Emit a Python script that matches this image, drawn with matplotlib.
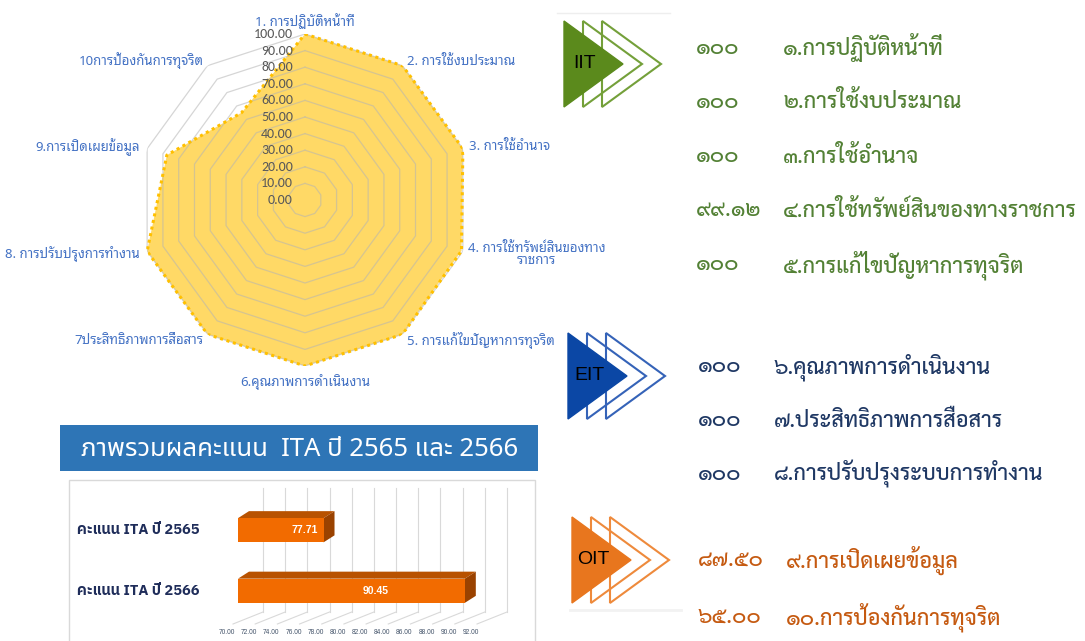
import numpy as np
import matplotlib
matplotlib.use("Agg")
import matplotlib.pyplot as plt
from matplotlib import font_manager as fm
from matplotlib.patches import Polygon, Rectangle
from matplotlib.transforms import ScaledTranslation, blended_transform_factory

# ---------------------------------------------------------------------------
# data
# ---------------------------------------------------------------------------
radar_labels = [
    "1. การปฏิบัติหน้าที่", "2. การใช้งบประมาณ", "3. การใช้อำนาจ",
    "4. การใช้ทรัพย์สินของทาง\nราชการ", "5. การแก้ไขปัญหาการทุจริต",
    "6.คุณภาพการดำเนินงาน", "7ประสิทธิภาพการสื่อสาร", "8. การปรับปรุงการทำงาน",
    "9.การเปิดเผยข้อมูล", "10การป้องกันการทุจริต",
]
scores = [100, 100, 100, 99.12, 100, 100, 100, 100, 87.50, 65.00]
radar_ticks = [0, 10, 20, 30, 40, 50, 60, 70, 80, 90, 100]

iit_values = ["๑๐๐", "๑๐๐", "๑๐๐", "๙๙.๑๒", "๑๐๐"]
iit_labels = ["๑.การปฏิบัติหน้าที่", "๒.การใช้งบประมาณ", "๓.การใช้อำนาจ",
              "๔.การใช้ทรัพย์สินของทางราชการ", "๕.การแก้ไขปัญหาการทุจริต"]
eit_values = ["๑๐๐", "๑๐๐", "๑๐๐"]
eit_labels = ["๖.คุณภาพการดำเนินงาน", "๗.ประสิทธิภาพการสื่อสาร",
              "๘.การปรับปรุงระบบการทำงาน"]
oit_values = ["๘๗.๕๐", "๖๕.๐๐"]
oit_labels = ["๙.การเปิดเผยข้อมูล", "๑๐.การป้องกันการทุจริต"]

ita_title = "ภาพรวมผลคะแนน  ITA ปี 2565 และ 2566"
ita_labels = ["คะแนน ITA ปี 2566", "คะแนน ITA ปี 2565"]
ita_scores = [90.45, 77.71]
ita_ticks = np.arange(70, 93, 2)

# ---------------------------------------------------------------------------
# fonts
# ---------------------------------------------------------------------------
names = {f.name for f in fm.fontManager.ttflist}
def pick(*cands, default="DejaVu Sans"):
    return next((c for c in cands if c in names), default)

TH_UI   = pick("Noto Sans Thai Looped", "Noto Sans Thai", "IBM Plex Sans Thai Looped", "Sarabun")
TH_BODY = pick("Sarabun", "Noto Sans Thai", "IBM Plex Sans Thai")
TH_HEAD = pick("Noto Sans Thai", "IBM Plex Sans Thai", "Sarabun")
TH_BOLD = pick("IBM Plex Sans Thai", "Noto Sans Thai", "Sarabun")
NUM     = pick("Carlito", "Liberation Sans")
F_UI   = [TH_UI, "Noto Sans", "DejaVu Sans"]
F_BODY = [TH_BODY, "Noto Sans", "DejaVu Sans"]
F_HEAD = [TH_HEAD, "Noto Sans", "DejaVu Sans"]
F_BOLD = [TH_BOLD, "Noto Sans", "DejaVu Sans"]

W, H, DPI = 1085, 641, 100
fig = plt.figure(figsize=(W / DPI, H / DPI), dpi=DPI)
fig.patch.set_facecolor("white")

# overlay in pixel coordinates
ov = fig.add_axes([0, 0, 1, 1])
ov.set_xlim(0, W)
ov.set_ylim(H, 0)
ov.axis("off")

def px(dx):
    return dx / DPI

# ---------------------------------------------------------------------------
# radar
# ---------------------------------------------------------------------------
cx, cy, R = 305, 200, 166
ax = fig.add_axes([(cx - R) / W, (H - cy - R) / H, 2 * R / W, 2 * R / H], projection="polar")
ax.set_theta_offset(np.pi / 2)
ax.set_theta_direction(-1)
ax.set_ylim(0, 100)
ax.grid(False)
ax.spines["polar"].set_visible(False)
ax.set_xticks([])
ax.set_yticks([])
ax.patch.set_alpha(0)

n = len(scores)
ang = np.linspace(0, 2 * np.pi, n, endpoint=False)
ang_c = np.append(ang, ang[0])
vals_c = np.append(scores, scores[0])

ax.fill(ang_c, vals_c, color="#FFD966", zorder=1, lw=0)
for r in radar_ticks[1:]:
    ax.plot(ang_c, [r] * (n + 1), color="#B4B4B4", lw=0.9, alpha=0.55, zorder=2)
ax.plot(ang_c, vals_c, color="#FFC000", lw=2.2, ls=(0, (1, 1.2)), zorder=3)

for r in radar_ticks:
    ax.text(0, r, f"{r:.2f}", ha="right", va="center", fontsize=10, family=[NUM],
            color="#595959", zorder=5,
            transform=ax.transData + ScaledTranslation(px(-12), 0, fig.dpi_scale_trans))

lab_off = [(0, 13, "center"), (4, 4, "left"), (6, 2, "left"), (5, -3, "left"),
           (4, -6, "left"), (0, -16, "center"), (-4, -6, "right"), (-7, -3, "right"),
           (-7, 2, "right"), (-4, 5, "right")]
for a, lab, (dx, dy, ha) in zip(ang, radar_labels, lab_off):
    ax.text(a, 100, lab, ha=ha, va="center", ma="center", fontsize=9.5, family=F_UI,
            color="#4472C4", linespacing=0.95,
            transform=ax.transData + ScaledTranslation(px(dx), px(dy), fig.dpi_scale_trans))

# ---------------------------------------------------------------------------
# IIT / EIT / OIT blocks
# ---------------------------------------------------------------------------
def icon(x0, ytop, fill, edge, name, h=86, w=59, step=19):
    for k in (2, 1):
        xs = x0 + k * step
        ov.add_patch(Polygon([(xs, ytop), (xs, ytop + h), (xs + w, ytop + h / 2)],
                             closed=True, fc="none", ec=edge, lw=1.5, zorder=3))
    ov.add_patch(Polygon([(x0, ytop), (x0, ytop + h), (x0 + w, ytop + h / 2)],
                         closed=True, fc=fill, ec=fill, lw=1, zorder=4))
    ov.text(x0 + 21, ytop + h / 2, name, ha="center", va="center", fontsize=14,
            family=["Liberation Sans"], color="black", zorder=5)

ov.plot([557, 670], [13, 13], color="#EEEEEE", lw=1)
ov.plot([570, 681], [610, 610], color="#F2F2F2", lw=2)
icon(564, 21, "#5B8A1C", "#74A03A", "IIT")
icon(568, 333, "#0B47A5", "#3563B8", "EIT")
icon(572, 517, "#E8761E", "#EE8A3C", "OIT")

def rows(values, labels, ys, xv, xl, color):
    for v, l, y in zip(values, labels, ys):
        ov.text(xv, y, v, ha="left", va="center", fontsize=15.5, family=F_BODY,
                color=color, fontweight="medium")
        ov.text(xl, y, l, ha="left", va="center", fontsize=15.5, family=F_BODY,
                color=color, fontweight="medium")

rows(iit_values, iit_labels, [48, 102, 157, 211, 265], 696, 783, "#538135")
rows(eit_values, eit_labels, [367, 421, 474], 698, 774, "#1F3864")
rows(oit_values, oit_labels, [560, 617], 698, 786, "#C55A11")

# ---------------------------------------------------------------------------
# ITA banner + 3D-ish bar chart
# ---------------------------------------------------------------------------
ov.add_patch(Rectangle((60, 425), 478, 46, fc="#2E75B6", ec="none"))
ov.text(300, 449, ita_title, ha="center", va="center", fontsize=18.5, family=F_HEAD,
        color="white", fontweight="medium")
ov.add_patch(Rectangle((69, 480), 466, 170, fc="white", ec="#D9D9D9", lw=1))

bx = fig.add_axes([238 / W, (H - 621) / H, (482 - 238) / W, 121 / H])
bx.set_xlim(70, 92)
bx.set_ylim(-0.5, 1.5)
bx.axis("off")

def topx(x, y):
    dx, dy = bx.transData.transform((x, y))
    return dx, H - dy

DX = 25
for v in ita_ticks:
    xb, _ = topx(v, 0)
    ov.plot([xb + DX, xb + DX], [488, 612], color="#D9D9D9", lw=0.8, zorder=1)
    ov.plot([xb + DX, xb - 5], [612, 624], color="#D9D9D9", lw=0.8, zorder=1)
    ov.text(xb - 11, 632, f"{v:.2f}", ha="center", va="center", fontsize=4.8,
            family=["Liberation Sans"], color="#44546A")

bh = 0.4
bars = bx.barh(range(len(ita_scores)), np.array(ita_scores) - 70, left=70, height=bh,
               color="#F26B00", zorder=3)
ox, oy = 11, -7
for i, v in enumerate(ita_scores):
    x0, yt = topx(70, i + bh / 2)
    x1, yb = topx(v, i - bh / 2)
    ov.add_patch(Polygon([(x0, yt), (x1, yt), (x1 + ox, yt + oy), (x0 + ox, yt + oy)],
                         closed=True, fc="#B85200", ec="none", zorder=3))
    ov.add_patch(Polygon([(x1, yt), (x1, yb), (x1 + ox, yb + oy), (x1 + ox, yt + oy)],
                         closed=True, fc="#9A4200", ec="none", zorder=3))
    bx.text((70 + v) / 2, i, f"{v:.2f}", ha="center", va="center", fontsize=7.5,
            fontweight="bold", color="white", family=["Liberation Sans"], zorder=5,
            transform=bx.transData + ScaledTranslation(px(24), 0, fig.dpi_scale_trans))

lt = blended_transform_factory(ov.transData, bx.transData)
for i, lab in enumerate(ita_labels):
    bx.text(77, i, lab, ha="left", va="center", fontsize=10.5, fontweight="bold",
            family=F_BOLD, color="#1F2D5A", transform=lt, clip_on=False)

fig.savefig("out.png", dpi=DPI, facecolor="white")
